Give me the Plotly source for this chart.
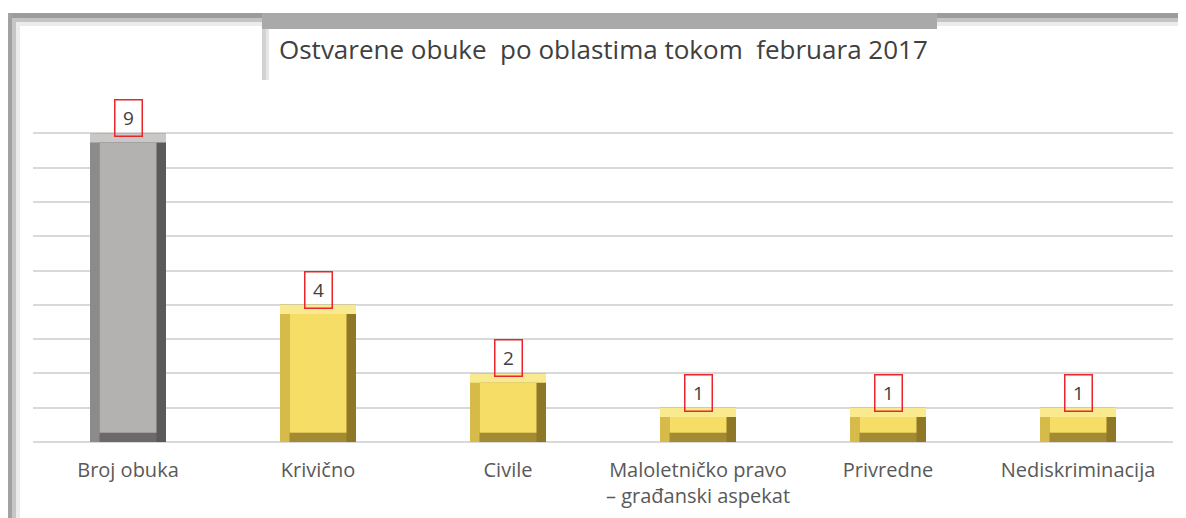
import plotly.graph_objects as go

categories = ["Broj obuka", "Krivično", "Civile", "Maloletničko pravo<br>– građanski aspekat", "Privredne", "Nediskriminacija"]
values = [9, 4, 2, 1, 1, 1]
title_text = "Ostvarene obuke  po oblastima tokom  februara 2017"

# page (screenshot) geometry; the page body has an 8px margin
OFF = 8
PAGE_W, PAGE_H = 1186, 518
W, H = PAGE_W - OFF, PAGE_H - OFF
PL, PR, PT, PB = 33, 1173, 99, 442   # plot area in page pixels
L, T = PL - OFF, PT - OFF
R = W - (PR - OFF)
B = H - (PB - OFF)
PW, PH = PR - PL, PB - PT

def px(X):
    return (X - PL) / PW

def py(Y):
    return (PB - Y) / PH

is_first = [i == 0 for i in range(len(values))]
face = ["#b4b1b1" if f else "#f6dd66" for f in is_first]
top = ["#cac7c7" if f else "#faea8f" for f in is_first]
left = ["#8d8a8a" if f else "#d6bb4b" for f in is_first]
dark = ["#5b5959" if f else "#8e7827" for f in is_first]
bottom = ["#6b6969" if f else "#a38a33" for f in is_first]

BW = 0.4
bx = 0.05
by = 0.27

fig = go.Figure()
fig.add_trace(go.Bar(x=categories, y=values, width=BW, offset=-BW / 2,
                     marker=dict(color=dark, line=dict(width=0)), hoverinfo="skip"))
fig.add_trace(go.Bar(x=categories, y=[by] * len(values), width=BW - bx, offset=-BW / 2,
                     marker=dict(color=bottom, line=dict(width=0)), hoverinfo="skip"))
fig.add_trace(go.Bar(x=categories, y=values, width=bx, offset=-BW / 2,
                     marker=dict(color=left, line=dict(width=0)), hoverinfo="skip"))
fig.add_trace(go.Bar(x=categories, y=[by] * len(values), base=[v - by for v in values],
                     width=BW, offset=-BW / 2,
                     marker=dict(color=top, line=dict(width=0)), hoverinfo="skip"))
fig.add_trace(go.Bar(x=categories, y=[v - 2 * by for v in values], base=[by] * len(values),
                     width=BW - 2 * bx, offset=-BW / 2 + bx,
                     marker=dict(color=face, line=dict(width=0)), hoverinfo="text",
                     hovertext=[f"{c}: {v}" for c, v in zip(categories, values)]))

annotations = []
for c, v in zip(categories, values):
    annotations.append(dict(x=c, y=v, xref="x", yref="y", text=str(v), showarrow=False,
                            yanchor="bottom", yshift=-4,
                            font=dict(family="Open Sans", size=19, color="#404040"),
                            bordercolor="#e8262b", borderwidth=1.5, borderpad=2,
                            bgcolor="rgba(255,255,255,0)", width=22, height=31))

annotations.append(dict(x=px(603), y=py(49), xref="paper", yref="paper", text=title_text,
                        showarrow=False, xanchor="center", yanchor="middle",
                        font=dict(family="Open Sans", size=26, color="#404040")))

shapes = []
def rect(x0, y0, x1, y1, color):
    shapes.append(dict(type="rect", xref="paper", yref="paper",
                       x0=px(x0), x1=px(x1), y0=py(y0), y1=py(y1),
                       fillcolor=color, line=dict(width=0), layer="below"))

# outer frame shadow: top band
rect(8, 13, PAGE_W + 5, 18, "#9c9c9c")
rect(8, 18, PAGE_W + 5, 22, "#c4c4c4")
rect(8, 22, PAGE_W + 5, 26, "#ebebeb")
# left band
rect(7, 13, 12, PAGE_H + 5, "#a2a2a2")
rect(12, 18, 16, PAGE_H + 5, "#c6c6c6")
rect(16, 22, 20, PAGE_H + 5, "#ececec")
# title box shadow
rect(262, 13, 937, 29, "#a9a9a9")
rect(262, 29, 269, 80, "#d2d2d2")
rect(266, 29, 269, 80, "#e6e6e6")
# title box
rect(269, 29, 937, 80, "#ffffff")

fig.update_layout(
    width=W, height=H,
    margin=dict(l=L, r=R, t=T, b=B, autoexpand=False),
    paper_bgcolor="white", plot_bgcolor="white",
    barmode="overlay", showlegend=False,
    annotations=annotations, shapes=shapes,
    xaxis=dict(showgrid=False, showline=False, ticks="", zeroline=False,
               tickfont=dict(family="Open Sans", size=20, color="#595959"),
               ticklabelstandoff=14, automargin=False, fixedrange=True),
    yaxis=dict(range=[0, 10], dtick=1, showticklabels=False, showgrid=True,
               gridcolor="#d9d9d9", gridwidth=1.5, zeroline=True,
               zerolinecolor="#d9d9d9", zerolinewidth=1.5, showline=False,
               automargin=False, fixedrange=True),
)

fig.write_html("out.html")
